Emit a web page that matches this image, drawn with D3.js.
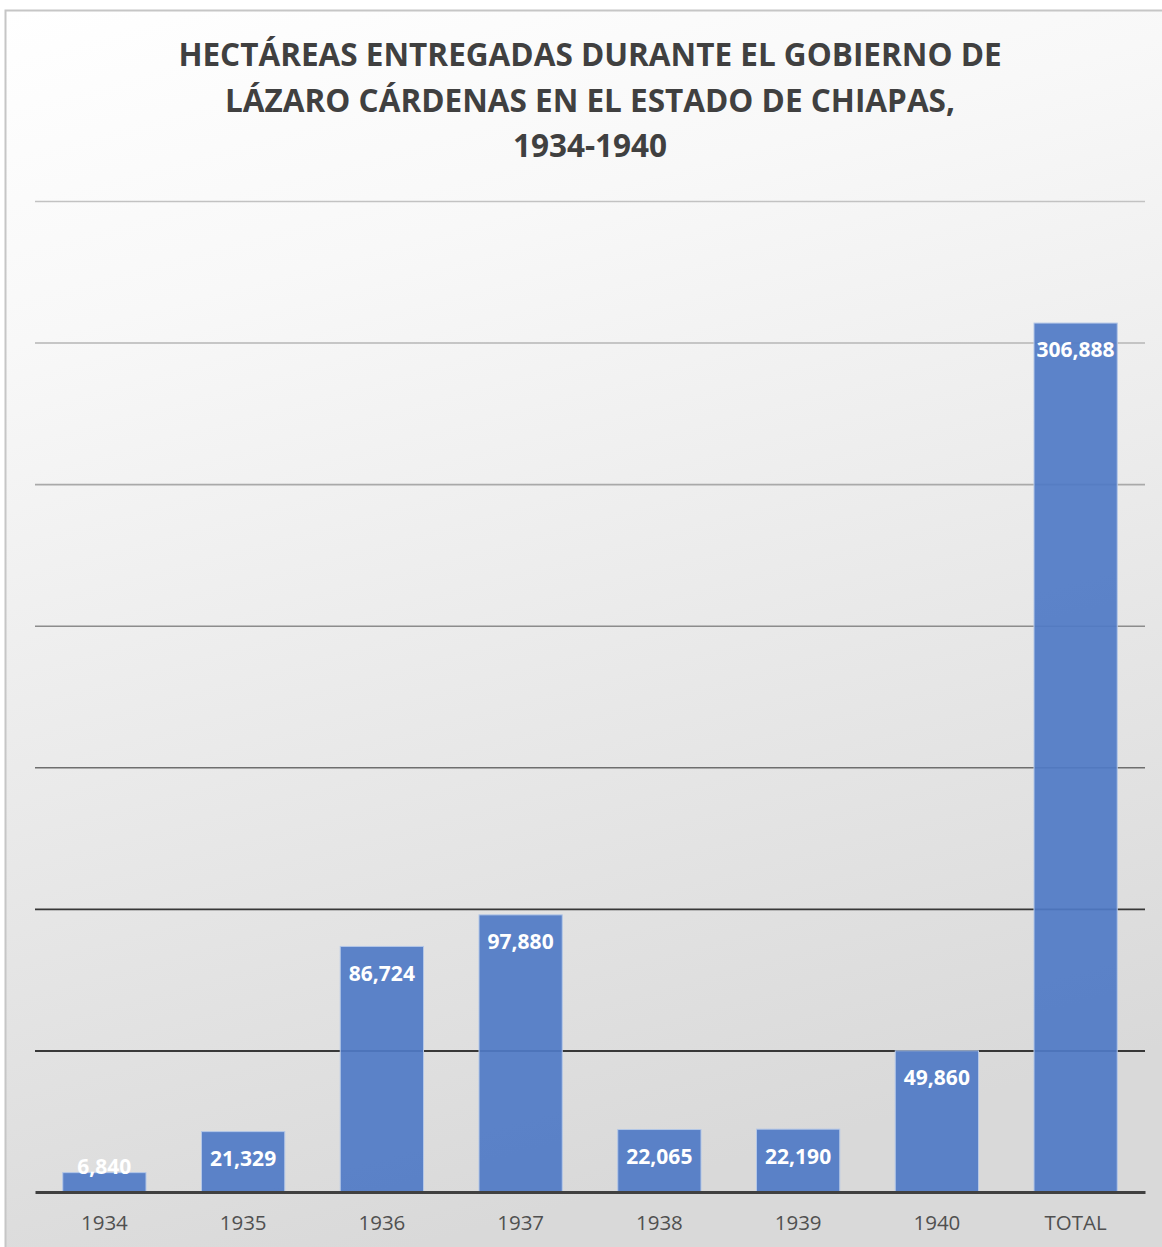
<!DOCTYPE html>
<html>
<head>
<meta charset="utf-8">
<script src="https://cdn.jsdelivr.net/npm/d3@7"></script>
<style>
  html, body { margin: 0; padding: 0; background: #ffffff; }
  svg { display: block; }
</style>
</head>
<body>
<svg id="chart" width="1162" height="1247"></svg>
<script>
// Hectares handed out in Chiapas, per year, plus the total
const categories = ["1934", "1935", "1936", "1937", "1938", "1939", "1940", "TOTAL"];
const hectares = [6840, 21329, 86724, 97880, 22065, 22190, 49860, 306888];
const gridTicks = [0, 50000, 100000, 150000, 200000, 250000, 300000, 350000];
const titleLines = [
  "HECTÁREAS ENTREGADAS DURANTE EL GOBIERNO DE",
  "LÁZARO CÁRDENAS EN EL ESTADO DE CHIAPAS,",
  "1934-1940"
];

const W = 1162, H = 1247;
const FONT = "'Open Sans', 'DejaVu Sans', sans-serif";
const svg = d3.select("#chart");
const defs = svg.append("defs");

// chart area background: white at top-left fading to light grey
const bg = defs.append("linearGradient").attr("id", "bgGrad")
  .attr("x1", "0").attr("y1", "0").attr("x2", "0.25").attr("y2", "1");
bg.append("stop").attr("offset", "0").attr("stop-color", "#ffffff");
bg.append("stop").attr("offset", "0.25").attr("stop-color", "#f8f8f8");
bg.append("stop").attr("offset", "1").attr("stop-color", "#d9d9d9");

svg.append("rect")
  .attr("x", 5.5).attr("y", 10.5)
  .attr("width", W + 20).attr("height", H + 20)
  .attr("fill", "url(#bgGrad)")
  .attr("stroke", "#c6c6c6").attr("stroke-width", 2);

// title
const title = svg.append("text")
  .attr("text-anchor", "middle")
  .attr("font-family", FONT)
  .attr("font-weight", 700)
  .attr("font-size", 31.5)
  .attr("fill", "#404040");
titleLines.forEach((t, i) => {
  title.append("tspan").attr("x", 590).attr("y", 66 + i * 45.5).text(t);
});

const plot = { left: 35, right: 1145, top: 201, bottom: 1192 };

const x = d3.scaleBand()
  .domain(categories)
  .range([plot.left, plot.right])
  .paddingInner(0.4)
  .paddingOuter(0.2);

const y = d3.scaleLinear()
  .domain([0, 350000])
  .range([plot.bottom, plot.top]);

// gridlines darken from light grey at the top to black near the axis
const gridColor = d3.scaleLinear()
  .domain([350000, 250000, 150000, 50000])
  .range(["#c2c2c2", "#a9a9a9", "#6e6e6e", "#000000"])
  .interpolate(d3.interpolateRgb);

const gridAxis = d3.axisLeft(y)
  .tickValues(gridTicks.filter(v => v > 0))
  .tickSize(-(plot.right - plot.left))
  .tickFormat("");
const gGrid = svg.append("g")
  .attr("transform", `translate(${plot.left},0)`)
  .call(gridAxis);
gGrid.select(".domain").remove();
gGrid.selectAll(".tick line")
  .attr("stroke", d => gridColor(d))
  .attr("stroke-width", 1.6);

// bars
svg.append("g").selectAll("rect")
  .data(categories)
  .join("rect")
  .attr("x", d => x(d))
  .attr("width", x.bandwidth())
  .attr("y", (d, i) => y(hectares[i]))
  .attr("height", (d, i) => y(0) - y(hectares[i]))
  .attr("fill", "#4f7ac6")
  .attr("fill-opacity", 0.92)
  .attr("stroke", "#b4c7e7")
  .attr("stroke-width", 1);

// category axis along the bottom
const xAxis = d3.axisBottom(x).tickSize(0).tickPadding(23);
const gx = svg.append("g")
  .attr("transform", `translate(0,${plot.bottom})`)
  .call(xAxis);
gx.select(".domain")
  .attr("stroke", "#404040")
  .attr("stroke-width", 3.2);
gx.selectAll(".tick text")
  .attr("font-family", FONT)
  .attr("font-size", 20.5)
  .attr("fill", "#505050");

// value labels inside the bar tops
svg.append("g").selectAll("text")
  .data(categories)
  .join("text")
  .attr("x", d => x(d) + x.bandwidth() / 2)
  .attr("y", (d, i) => Math.min(y(hectares[i]) + 27, plot.bottom - 25))
  .attr("dy", "0.35em")
  .attr("text-anchor", "middle")
  .attr("font-family", FONT)
  .attr("font-weight", 700)
  .attr("font-size", 21)
  .attr("fill", "#ffffff")
  .text((d, i) => d3.format(",")(hectares[i]));
</script>
</body>
</html>
